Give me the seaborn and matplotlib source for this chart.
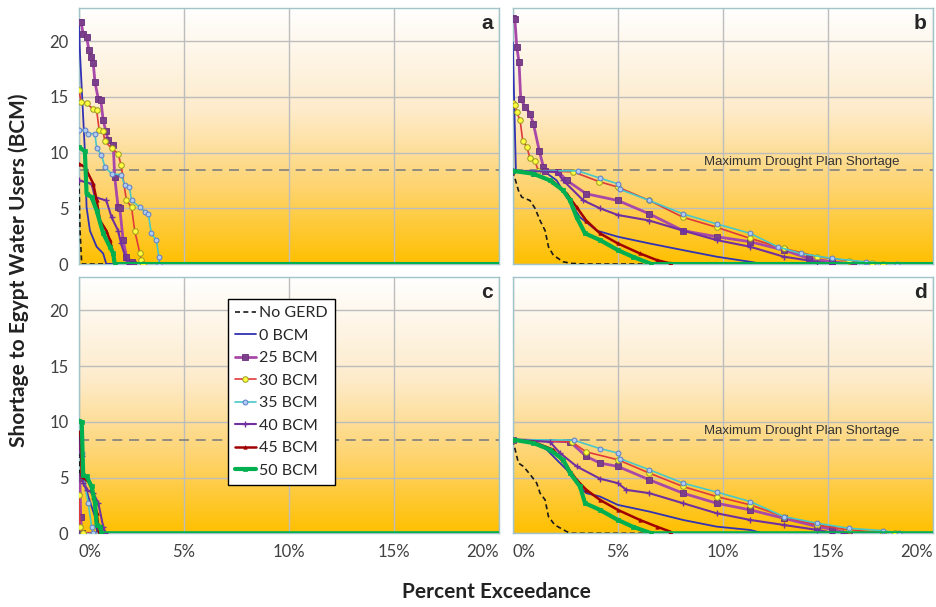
import numpy as np
import pandas as pd
import matplotlib
matplotlib.use("Agg")
import matplotlib.pyplot as plt
import seaborn as sns
from matplotlib.colors import LinearSegmentedColormap

# exceedance curves: x = percent exceedance, y = shortage (BCM)
series_names = ["No GERD", "0 BCM", "25 BCM", "30 BCM", "35 BCM", "40 BCM", "45 BCM", "50 BCM"]

panel_a = {
    "No GERD": ([0, 0.05, 0.13, 20], [7.5, 3.0, 0, 0]),
    "0 BCM": ([0, 0.05, 0.28, 0.36, 0.52, 0.84, 1.15, 1.3, 20], [21.5, 18.8, 10.1, 5.1, 3.0, 1.55, 0.95, 0, 0]),
    "25 BCM": ([0, 0.1, 0.2, 0.36, 0.47, 0.57, 0.68, 0.76, 0.92, 1.04, 1.15, 1.28, 1.39, 1.63, 1.7, 1.86, 1.94, 2.1, 2.26, 2.5, 2.57, 20],
               [21.7, 21.7, 20.6, 20.4, 19.2, 18.6, 18.0, 16.3, 14.8, 14.7, 12.9, 11.9, 11.1, 10.7, 7.8, 5.1, 5.0, 2.15, 0.66, 0.2, 0, 0]),
    "30 BCM": ([0, 0.1, 0.36, 0.68, 0.84, 0.96, 1.15, 1.23, 1.55, 1.86, 2.0, 2.26, 2.5, 2.65, 2.9, 2.97, 3.05, 20],
               [15.6, 14.5, 14.4, 13.9, 13.8, 12.0, 11.9, 11.0, 10.4, 9.9, 8.9, 5.7, 5.1, 3.0, 0.95, 0.36, 0, 0]),
    "35 BCM": ([0, 0.28, 0.44, 0.76, 0.84, 1.07, 1.23, 1.55, 2.0, 2.18, 2.4, 2.5, 2.9, 3.13, 3.3, 3.44, 3.68, 3.8, 3.82, 20],
               [12.0, 12.0, 11.7, 11.7, 10.4, 9.8, 8.7, 8.1, 8.0, 7.1, 6.9, 5.7, 5.1, 4.7, 4.5, 2.75, 2.15, 0.66, 0, 0]),
    "40 BCM": ([0, 0.6, 0.76, 1.3, 1.55, 1.86, 2.0, 2.26, 2.4, 20], [7.5, 7.2, 6.0, 5.7, 4.2, 3.0, 1.85, 0.36, 0, 0]),
    "45 BCM": ([0, 0.28, 0.68, 0.84, 1.0, 1.3, 1.47, 1.63, 1.7, 20], [9.0, 8.7, 7.2, 5.7, 3.9, 3.0, 2.15, 0.95, 0, 0]),
    "50 BCM": ([0, 0.28, 0.36, 0.6, 0.84, 1.15, 1.47, 1.63, 1.7, 20], [10.5, 10.1, 6.3, 6.0, 4.8, 2.75, 1.55, 0.95, 0, 0]),
}

panel_b = {
    "No GERD": ([0, 0.27, 0.43, 0.82, 1.06, 1.3, 1.54, 1.7, 1.93, 2.4, 2.8, 3.36, 20],
                [8.36, 6.6, 6.0, 5.7, 5.0, 3.9, 3.0, 1.55, 0.8, 0.2, 0.06, 0, 0]),
    "0 BCM": ([0, 0.15, 1.46, 2.09, 2.57, 3.2, 4.0, 5.0, 6.5, 8.1, 9.7, 11.3, 11.9, 20],
              [19.9, 8.36, 8.36, 7.5, 6.0, 4.2, 3.0, 2.45, 1.85, 1.25, 0.66, 0.2, 0, 0]),
    "25 BCM": ([0, 0.1, 0.19, 0.3, 0.38, 0.59, 0.82, 0.98, 1.27, 1.46, 1.54, 2.17, 2.57, 3.5, 5.0, 6.5, 8.1, 9.7, 11.3, 12.9, 14.1, 15.2, 16.2, 20],
               [22.1, 22.0, 19.5, 18.1, 14.8, 14.1, 13.5, 12.6, 10.1, 8.7, 8.36, 8.27, 7.5, 6.3, 5.7, 4.5, 3.0, 2.45, 2.0, 1.25, 0.5, 0.2, 0, 0]),
    "30 BCM": ([0, 0.1, 0.19, 0.35, 0.48, 0.67, 0.82, 1.06, 1.22, 2.88, 4.1, 5.0, 6.5, 8.1, 9.7, 11.3, 12.9, 14.5, 16.0, 17.1, 17.6, 20],
               [14.4, 14.3, 13.6, 12.9, 11.0, 10.5, 9.5, 9.2, 8.36, 8.27, 7.4, 6.9, 5.7, 4.2, 3.3, 2.3, 1.4, 0.66, 0.3, 0.06, 0, 0]),
    "35 BCM": ([0, 3.1, 4.15, 5.0, 5.1, 6.5, 8.1, 9.7, 11.3, 12.6, 13.7, 15.2, 16.8, 18.3, 20],
               [8.36, 8.36, 7.7, 7.2, 6.7, 5.7, 4.5, 3.6, 2.75, 1.55, 0.95, 0.5, 0.2, 0, 0]),
    "40 BCM": ([0, 2.1, 2.4, 3.36, 4.15, 5.0, 6.5, 8.1, 9.7, 11.3, 12.9, 14.5, 15.2, 20],
               [8.36, 8.27, 7.5, 5.7, 5.0, 4.4, 3.9, 3.0, 2.15, 1.55, 0.66, 0.2, 0, 0]),
    "45 BCM": ([0, 0.98, 1.93, 2.57, 3.04, 3.5, 4.15, 5.0, 6.05, 6.85, 7.5, 7.55, 20],
               [8.36, 8.1, 7.4, 6.3, 5.1, 3.9, 2.75, 1.85, 0.95, 0.36, 0.06, 0, 0]),
    "50 BCM": ([0, 0.98, 1.77, 2.4, 2.73, 3.04, 3.44, 4.15, 5.0, 5.7, 6.6, 20],
               [8.36, 8.1, 7.5, 6.6, 5.7, 4.2, 2.75, 2.15, 1.25, 0.66, 0, 0]),
}

panel_c = {
    "No GERD": ([0, 0.04, 0.08, 20], [8.7, 4.0, 0, 0]),
    "0 BCM": ([0.03, 0.05, 0.28, 0.44, 0.76, 0.87, 20], [8.8, 7.5, 4.5, 3.3, 1.5, 0, 0]),
    "25 BCM": ([0, 0.04, 0.08, 0.13, 20], [5.1, 5.0, 1.5, 0, 0]),
    "30 BCM": ([0, 0.05, 0.2, 20], [3.4, 0.6, 0, 0]),
    "35 BCM": ([0.05, 0.13, 0.2, 0.44, 0.6, 0.68, 20], [7.8, 7.2, 5.1, 2.7, 0.6, 0, 0]),
    "40 BCM": ([0, 0.13, 0.2, 0.36, 0.68, 0.92, 1.15, 1.26, 20], [7.8, 6.9, 4.5, 3.9, 3.6, 2.7, 0.6, 0, 0]),
    "45 BCM": ([0, 0.08, 0.13, 0.52, 0.68, 0.84, 0.96, 20], [9.1, 8.7, 5.1, 4.5, 3.3, 1.8, 0, 0]),
    "50 BCM": ([0, 0.13, 0.2, 0.36, 0.6, 0.76, 0.84, 1.0, 1.07, 20], [10.1, 10.0, 5.2, 5.1, 4.2, 2.7, 0.75, 0.6, 0, 0]),
}

panel_d = {
    "No GERD": ([0, 0.27, 0.51, 0.9, 1.14, 1.3, 1.54, 1.7, 2.0, 2.57, 2.8, 20],
                [8.4, 6.3, 6.0, 5.1, 4.5, 3.6, 3.0, 1.5, 0.75, 0.15, 0, 0]),
    "0 BCM": ([0, 0.98, 1.62, 2.09, 2.57, 3.04, 3.5, 4.15, 5.0, 6.5, 8.1, 9.7, 11.3, 11.9, 20],
              [8.4, 8.2, 7.5, 6.6, 5.7, 4.5, 3.6, 3.3, 2.55, 1.95, 1.2, 0.6, 0.3, 0, 0]),
    "25 BCM": ([0, 2.73, 3.5, 4.15, 5.0, 6.5, 8.1, 9.7, 11.3, 12.9, 14.5, 15.2, 16.0, 20],
               [8.4, 8.2, 6.9, 6.3, 6.0, 4.8, 3.6, 2.7, 2.1, 1.35, 0.6, 0.36, 0, 0]),
    "30 BCM": ([0, 2.8, 3.5, 5.0, 6.5, 8.1, 9.7, 11.3, 12.9, 14.5, 16.0, 17.6, 18.2, 20],
               [8.4, 8.2, 7.3, 6.6, 5.4, 4.2, 3.3, 2.55, 1.5, 0.75, 0.3, 0.06, 0, 0]),
    "35 BCM": ([0, 2.9, 4.15, 5.0, 5.1, 6.5, 8.1, 9.7, 11.3, 12.9, 14.5, 16.0, 17.6, 18.4, 20],
               [8.4, 8.36, 7.6, 7.2, 6.7, 5.7, 4.5, 3.7, 2.85, 1.5, 0.9, 0.45, 0.24, 0, 0]),
    "40 BCM": ([0, 1.77, 2.25, 3.04, 4.15, 5.0, 5.4, 6.5, 8.1, 9.7, 11.3, 12.9, 14.5, 15.2, 15.7, 20],
               [8.4, 8.2, 7.2, 6.0, 4.9, 4.5, 3.9, 3.6, 2.7, 1.8, 1.2, 0.75, 0.3, 0.06, 0, 0]),
    "45 BCM": ([0, 0.98, 1.93, 2.57, 3.04, 3.5, 4.15, 5.0, 6.05, 6.85, 7.5, 7.55, 20],
               [8.4, 8.2, 7.5, 6.0, 4.8, 3.9, 3.0, 2.1, 1.2, 0.6, 0.15, 0, 0]),
    "50 BCM": ([0, 0.98, 1.77, 2.4, 2.73, 3.2, 3.44, 4.15, 5.0, 5.7, 6.6, 20],
               [8.4, 8.1, 7.5, 6.6, 5.4, 4.2, 2.7, 2.1, 1.2, 0.6, 0, 0]),
}

drought_limit = 8.4
x_ticks = [0, 5, 10, 15, 20]
x_tick_labels = ["0%", "5%", "10%", "15%", "20%"]
y_ticks = [0, 5, 10, 15, 20]

styles = {
    "No GERD": dict(color="#1a1a1a", lw=1.2, ls=(0, (3, 2)), marker=None),
    "0 BCM": dict(color="#3232B4", lw=1.3, marker=None),
    "25 BCM": dict(color="#A848A8", lw=2.0, marker="s", ms=4, mfc="#7B3F8B", mec="#6B2F7B", mew=0.6),
    "30 BCM": dict(color="#E03A3A", lw=1.2, marker="o", ms=4, mfc="#FFFF40", mec="#9A9A20", mew=0.7),
    "35 BCM": dict(color="#48C8C8", lw=1.2, marker="o", ms=3.5, mfc="#B0CCF0", mec="#5A7CC8", mew=0.7),
    "40 BCM": dict(color="#7030A0", lw=1.5, marker="+", ms=4, mec="#7030A0", mew=1.0),
    "45 BCM": dict(color="#A00000", lw=1.8, marker="^", ms=2.5, mfc="#A00000", mec="#A00000", mew=0.5),
    "50 BCM": dict(color="#00B050", lw=3.0, marker="s", ms=2.5, mfc="#00B050", mec="#00B050", mew=0.5),
}

sns.set_style("white")
plt.rcParams["font.family"] = ["Lato", "DejaVu Sans"]

fig = plt.figure(figsize=(9.36, 6.07), dpi=100)
w, h = 0.449, 0.4225
boxes = {"a": [0.0844, 0.565, w, h], "b": [0.5478, 0.565, w, h],
         "c": [0.0844, 0.1214, w, h], "d": [0.5478, 0.1214, w, h]}
panels = {"a": panel_a, "b": panel_b, "c": panel_c, "d": panel_d}

bg = LinearSegmentedColormap.from_list(
    "bg", [(0, "#FFC000"), (0.3, "#FED470"), (0.6, "#FDEBCB"), (1.0, "#FFFFFF")])

for key, data in panels.items():
    ax = fig.add_axes(boxes[key])
    ax.imshow(np.linspace(0, 1, 256).reshape(-1, 1), extent=[0, 20, 0, 23],
              origin="lower", aspect="auto", cmap=bg, zorder=0)
    ax.set_xlim(0, 20)
    ax.set_ylim(0, 23)
    ax.set_xticks(x_ticks)
    ax.set_yticks(y_ticks)
    ax.grid(True, color="#BDBDBD", lw=1.0, zorder=1)
    ax.set_axisbelow(True)
    for s in ax.spines.values():
        s.set_color("#A0C4C8")
        s.set_linewidth(1.0)
    ax.axhline(drought_limit, color="#808080", lw=1.2, ls=(0, (6, 4)), zorder=2)
    if key in ("b", "d"):
        ax.text(18.4, drought_limit + 0.25, "Maximum Drought Plan Shortage", ha="right", va="bottom",
                fontsize=9.5, family=["Liberation Sans", "DejaVu Sans"], color="#333333", zorder=3)

    for i, name in enumerate(series_names):
        xs, ys = data[name]
        df = pd.DataFrame({"x": xs, "y": ys})
        st = dict(styles[name])
        sns.lineplot(data=df, x="x", y="y", ax=ax, estimator=None, sort=False,
                     markevery=list(range(len(xs) - 1)), label=name, zorder=4 + i, **st)

    ax.text(0.985, 0.975, key, transform=ax.transAxes, ha="right", va="top",
            fontsize=15, fontweight="bold", family=["Liberation Sans", "DejaVu Sans"])
    ax.set_xlabel("")
    ax.set_ylabel("")
    ax.tick_params(axis="both", labelsize=12, colors="#404040", length=4, width=0.8, color="#999999")
    if key in ("a", "b"):
        ax.set_xticklabels([])
        ax.tick_params(axis="x", length=0)
    else:
        ax.set_xticklabels(x_tick_labels)
        labs = ax.get_xticklabels()
        labs[0].set_ha("left")
        labs[-1].set_ha("right")
        ax.tick_params(axis="x", length=0, pad=8)
    if key in ("b", "d"):
        ax.set_yticklabels([])
        ax.tick_params(axis="y", length=0)

    if key == "c":
        leg = ax.legend(loc="upper left", bbox_to_anchor=(0.335, 0.945), fontsize=11.5,
                        frameon=True, fancybox=False, edgecolor="black", framealpha=1,
                        handlelength=1.3, handletextpad=0.2, labelspacing=0.52, borderpad=0.45)
        leg.get_frame().set_linewidth(1.0)
        leg.set_zorder(20)
    else:
        ax.get_legend().remove()

fig.text(0.02, 0.555, "Shortage to Egypt Water Users (BCM)", rotation=90, ha="center", va="center",
         fontsize=15, fontweight="bold", color="#222222")
fig.text(0.53, 0.025, "Percent Exceedance", ha="center", va="center",
         fontsize=15, fontweight="bold", color="#222222")

fig.savefig("out.png", dpi=100)
